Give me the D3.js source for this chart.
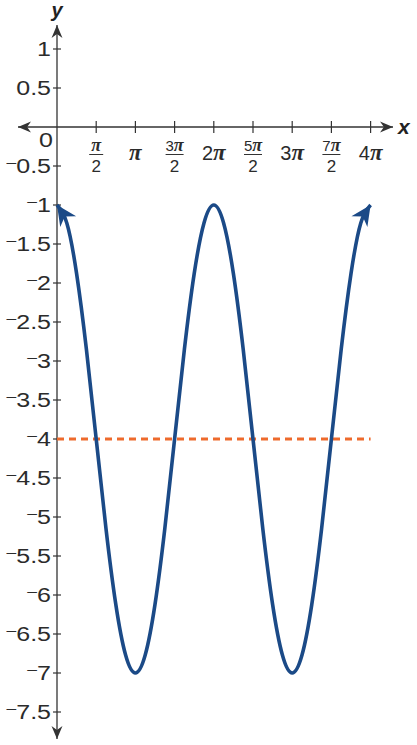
<!DOCTYPE html>
<html>
<head>
<meta charset="utf-8">
<script src="https://cdn.jsdelivr.net/npm/d3@7"></script>
<style>
  body { margin: 0; background: #fff; }
  text { font-family: "Liberation Sans", Arial, sans-serif; fill: #2b2b2b; }
</style>
</head>
<body>
<svg width="417" height="745"></svg>
<script>
// curve points: x as multiples of pi, y
const curveX = [0, 0.125, 0.25, 0.375, 0.5, 0.625, 0.75, 0.875, 1,
    1.125, 1.25, 1.375, 1.5, 1.625, 1.75, 1.875, 2,
    2.125, 2.25, 2.375, 2.5, 2.625, 2.75, 2.875, 3,
    3.125, 3.25, 3.375, 3.5, 3.625, 3.75, 3.875, 4]
const curveY = [-1, -1.23, -1.88, -2.85, -4, -5.15, -6.12, -6.77, -7,
    -6.77, -6.12, -5.15, -4, -2.85, -1.88, -1.23, -1,
    -1.23, -1.88, -2.85, -4, -5.15, -6.12, -6.77, -7,
    -6.77, -6.12, -5.15, -4, -2.85, -1.88, -1.23, -1]
const midline = [-4]

// x ticks (multiples of pi) and labels: [numerator, denominator] or [coef, 'π']
const xTickVals = [0.5, 1, 1.5, 2, 2.5, 3, 3.5, 4]
const xTickLabels = [['π', '2'], ['', 'π'], ['3π', '2'], ['2', 'π'], ['5π', '2'], ['3', 'π'], ['7π', '2'], ['4', 'π']]
const yTickVals = [1, 0.5, -0.5, -1, -1.5, -2, -2.5, -3, -3.5, -4, -4.5, -5, -5.5, -6, -6.5, -7, -7.5]

const svg = d3.select('svg')
const x = d3.scaleLinear().domain([0, 4 * Math.PI]).range([57, 370.6])
const y = d3.scaleLinear().domain([0, -7]).range([127, 673])

const axisColor = '#333'
const blue = '#1b4a87'
const orange = '#ee6a2c'

const defs = svg.append('defs')
const arrow = (id, color, size, ratio, orient) => {
    defs.append('marker')
        .attr('id', id)
        .attr('markerUnits', 'userSpaceOnUse')
        .attr('viewBox', '-26 -14 28 28')
        .attr('markerWidth', 28).attr('markerHeight', 28)
        .attr('refX', 0).attr('refY', 0)
        .attr('orient', orient)
        .append('path')
        .attr('d', `M0,0 L${-size},${-size * ratio} L${-size * 0.7},0 L${-size},${size * ratio} Z`)
        .attr('fill', color)
}
arrow('axArrow', axisColor, 13, 0.42, 'auto-start-reverse')
arrow('arrowL', blue, 20, 0.48, -124)
arrow('arrowR', blue, 20, 0.48, -56)

// axes
svg.append('line')
    .attr('x1', 18).attr('x2', 393)
    .attr('y1', y(0)).attr('y2', y(0))
    .attr('stroke', axisColor).attr('stroke-width', 1.3)
    .attr('marker-start', 'url(#axArrow)')
    .attr('marker-end', 'url(#axArrow)')
svg.append('line')
    .attr('x1', x(0)).attr('x2', x(0))
    .attr('y1', 25).attr('y2', 739)
    .attr('stroke', axisColor).attr('stroke-width', 1.3)
    .attr('marker-start', 'url(#axArrow)')
    .attr('marker-end', 'url(#axArrow)')

// x ticks
svg.append('g').selectAll('line')
    .data(xTickVals)
    .enter().append('line')
    .attr('x1', d => x(d * Math.PI)).attr('x2', d => x(d * Math.PI))
    .attr('y1', y(0) - 6).attr('y2', y(0) + 6)
    .attr('stroke', axisColor).attr('stroke-width', 1.2)

const piSpan = (t, size) => t.append('tspan').text('π')
    .style('font-family', '"Liberation Serif", serif')
    .attr('font-style', 'italic').attr('font-weight', 'bold')
    .attr('font-size', size)

const xl = svg.append('g').selectAll('g')
    .data(xTickVals.map((v, i) => ({ v, lab: xTickLabels[i] })))
    .enter().append('g')
    .attr('transform', d => `translate(${x(d.v * Math.PI)},0)`)

xl.each(function(d) {
    const g = d3.select(this)
    if (d.lab[1] === '2') {
        // fraction
        const num = d.lab[0].replace('π', '')
        const t = g.append('text')
            .attr('y', 151).attr('text-anchor', 'middle')
            .attr('font-size', 15)
        if (num) t.append('tspan').text(num)
        piSpan(t, 18)
        const w = num ? 9 : 7
        g.append('line')
            .attr('x1', -w).attr('x2', w)
            .attr('y1', 154.5).attr('y2', 154.5)
            .attr('stroke', axisColor).attr('stroke-width', 1)
        g.append('text')
            .attr('y', 172).attr('text-anchor', 'middle')
            .attr('font-size', 17)
            .text('2')
    } else {
        const t = g.append('text')
            .attr('y', 160).attr('text-anchor', 'middle')
            .attr('font-size', 20)
        if (d.lab[0]) t.append('tspan').text(d.lab[0])
        piSpan(t, 23)
    }
})

// y ticks
svg.append('g').selectAll('line')
    .data(yTickVals)
    .enter().append('line')
    .attr('x1', x(0) - 4).attr('x2', x(0) + 4)
    .attr('y1', d => y(d)).attr('y2', d => y(d))
    .attr('stroke', axisColor).attr('stroke-width', 1.2)

const yl = svg.append('g').selectAll('text')
    .data(yTickVals)
    .enter().append('text')
    .attr('text-anchor', 'end')
    .attr('font-size', 20)
    .attr('transform', d => `translate(51,${y(d) + 7}) scale(1.25,1)`)
yl.filter(d => d < 0).append('tspan')
    .text('–')
    .attr('font-size', 14)
    .attr('dy', -6)
yl.append('tspan')
    .attr('dy', d => d < 0 ? 6 : 0)
    .text(d => String(Math.abs(d)))

svg.append('text')
    .attr('text-anchor', 'end')
    .attr('font-size', 20)
    .attr('transform', `translate(53,${y(0) + 20}) scale(1.25,1)`)
    .text('0')

// axis names
svg.append('text')
    .attr('x', 398).attr('y', y(0) + 7)
    .attr('font-size', 21).attr('font-weight', 'bold').attr('font-style', 'italic')
    .style('fill', '#222')
    .text('x')
svg.append('text')
    .attr('x', 57).attr('y', 17).attr('text-anchor', 'middle')
    .attr('font-size', 20).attr('font-weight', 'bold').attr('font-style', 'italic')
    .style('fill', '#222')
    .text('y')

// midline
svg.append('line')
    .attr('x1', x(0)).attr('x2', x(4 * Math.PI))
    .attr('y1', y(midline[0])).attr('y2', y(midline[0]))
    .attr('stroke', orange).attr('stroke-width', 3)
    .attr('stroke-dasharray', '7,5')

// curve
const line = d3.line()
    .x((d, i) => x(curveX[i] * Math.PI))
    .y(d => y(d))
    .curve(d3.curveNatural)

svg.append('path')
    .datum(curveY)
    .attr('d', line)
    .attr('fill', 'none')
    .attr('stroke', blue).attr('stroke-width', 3.6)
    .attr('marker-start', 'url(#arrowL)')
    .attr('marker-end', 'url(#arrowR)')
</script>
</body>
</html>
